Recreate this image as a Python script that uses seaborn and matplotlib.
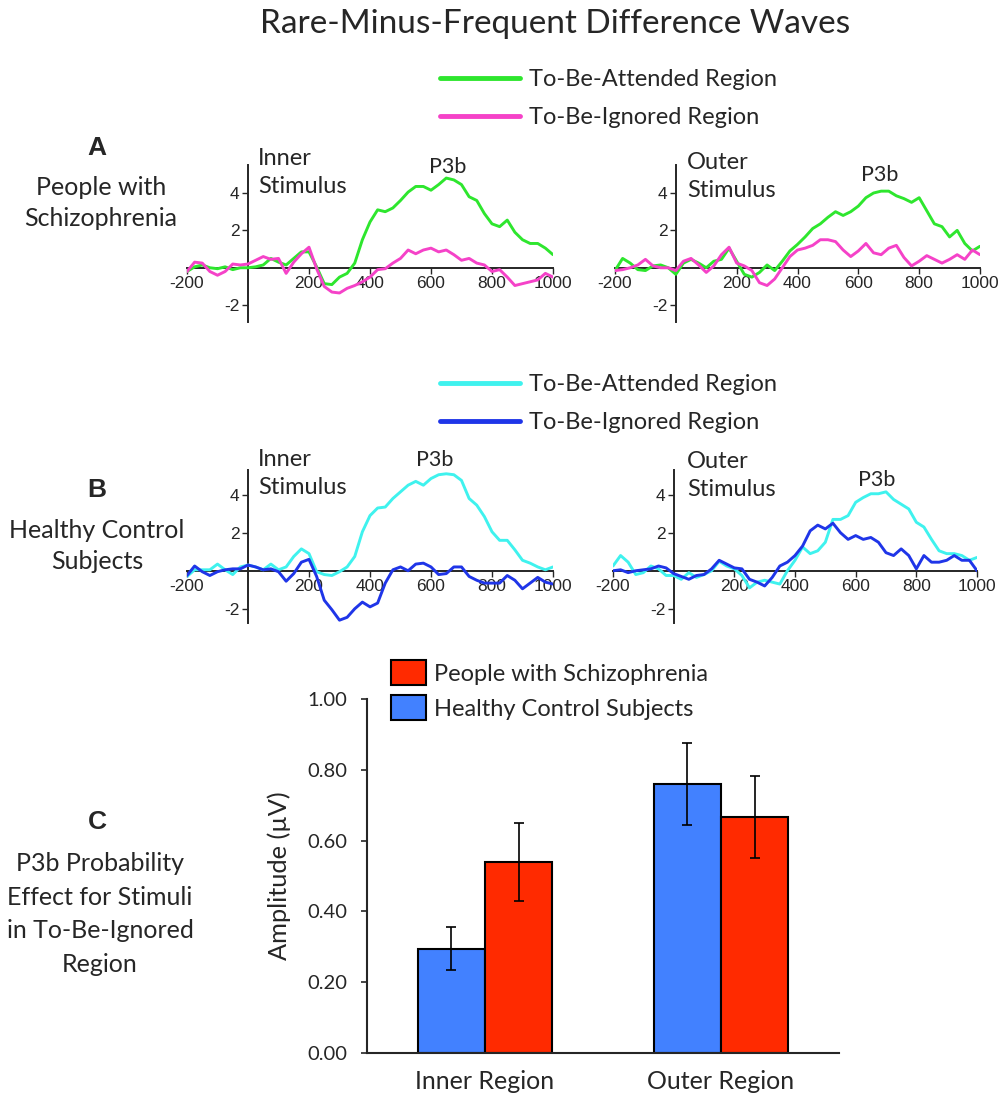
import numpy as np
import pandas as pd
import matplotlib
matplotlib.use("Agg")
import matplotlib.pyplot as plt
import seaborn as sns

sns.set_style("ticks")
plt.rcParams['font.family'] = ['Lato', 'DejaVu Sans']
plt.rcParams['axes.unicode_minus'] = False

# time axis (ms), one sample every 25 ms
t = np.arange(-200, 1001, 25)

# A: people with schizophrenia
szInnerAtt = [-0.2, 0.05, 0.15, 0.0, -0.05, 0.05, -0.1, 0.0, 0.0,
              0.05, 0.15, 0.5, 0.3, 0.15, 0.5, 0.85, 0.85,
              0.05, -0.85, -0.9, -0.5, -0.3, 0.25, 1.5, 2.45,
              3.1, 3.0, 3.2, 3.6, 4.05, 4.35, 4.35, 4.15,
              4.45, 4.8, 4.7, 4.45, 3.8, 3.6, 2.9, 2.35,
              2.2, 2.55, 1.9, 1.5, 1.3, 1.3, 1.05, 0.7]
szInnerIgn = [-0.2, 0.3, 0.25, -0.2, -0.4, -0.2, 0.2, 0.15, 0.2,
              0.4, 0.6, 0.45, 0.5, -0.3, 0.3, 0.75, 1.1,
              -0.05, -1.0, -1.3, -1.35, -1.1, -0.95, -0.75, -0.5,
              -0.1, -0.05, 0.25, 0.5, 0.95, 0.75, 0.95, 1.05,
              0.85, 0.95, 0.7, 0.4, 0.5, 0.25, 0.15, -0.2,
              -0.1, -0.5, -0.95, -0.85, -0.75, -0.65, -0.3, -0.5]
szOuterAtt = [-0.15, 0.5, 0.25, -0.1, -0.15, 0.1, 0.15, 0.0, -0.35,
              0.25, 0.45, 0.25, 0.0, 0.35, 0.45, 1.05, 0.35,
              -0.35, -0.5, -0.25, 0.15, -0.15, 0.35, 0.9, 1.25,
              1.65, 2.1, 2.35, 2.7, 3.0, 2.8, 3.0, 3.3,
              3.75, 4.0, 4.1, 4.1, 3.85, 3.7, 3.5, 3.75,
              3.05, 2.35, 2.2, 1.65, 2.0, 1.3, 0.9, 1.15]
szOuterIgn = [-0.15, -0.1, 0.0, 0.15, 0.45, 0.1, 0.0, 0.0, -0.15,
              0.35, 0.5, 0.15, -0.25, 0.1, 0.7, 1.1, 0.25,
              0.1, -0.15, -0.8, -0.95, -0.6, 0.0, 0.6, 0.95,
              1.05, 1.2, 1.5, 1.5, 1.4, 0.95, 0.6, 0.9,
              1.3, 0.8, 0.7, 1.05, 1.2, 0.55, 0.1, 0.35,
              0.65, 0.45, 0.25, 0.45, 0.7, 0.45, 0.95, 0.7]

# B: healthy control subjects
hcInnerAtt = [-0.3, 0.05, 0.05, 0.05, 0.35, 0.05, -0.2, 0.2, 0.3,
              0.2, 0.05, 0.35, 0.05, 0.2, 0.75, 1.15, 0.9,
              -0.05, -0.2, -0.25, -0.05, 0.2, 0.75, 2.05, 2.9,
              3.3, 3.35, 3.8, 4.15, 4.5, 4.7, 4.5, 4.85,
              5.05, 5.1, 5.05, 4.75, 3.8, 3.45, 2.85, 2.05,
              1.6, 1.6, 1.1, 0.55, 0.4, 0.2, 0.05, 0.2]
hcInnerIgn = [-0.25, 0.25, -0.05, -0.25, -0.05, 0.05, 0.1, 0.1, 0.3,
              0.2, 0.05, 0.1, -0.05, -0.55, -0.15, 0.45, 0.6,
              -0.3, -1.55, -2.05, -2.6, -2.45, -2.0, -1.65, -1.9,
              -1.7, -0.65, 0.05, 0.2, 0.0, 0.35, 0.4, 0.2,
              -0.2, -0.15, 0.2, 0.2, -0.3, -0.5, -0.65, -0.65,
              -0.65, -0.25, -0.5, -0.95, -0.65, -0.35, -0.6, -0.7]
hcOuterAtt = [0.25, 0.8, 0.45, -0.2, -0.1, 0.25, 0.1, -0.25, -0.25,
              -0.45, -0.1, -0.35, -0.2, 0.0, 0.5, 0.25, 0.1,
              -0.25, -0.9, -0.6, -0.5, -0.6, -0.7, 0.0, 0.55,
              1.25, 0.9, 1.05, 1.5, 2.7, 2.7, 2.9, 3.6,
              3.85, 4.05, 4.05, 4.15, 3.75, 3.5, 3.25, 2.55,
              2.3, 1.65, 1.05, 0.9, 0.9, 0.8, 0.55, 0.7]
hcOuterIgn = [0.0, 0.05, -0.1, 0.0, 0.05, 0.1, 0.25, 0.15, -0.15,
              -0.3, -0.45, -0.25, -0.2, 0.1, 0.55, 0.35, 0.15,
              0.1, -0.45, -0.6, -0.8, -0.35, 0.25, 0.45, 0.8,
              1.3, 2.1, 2.4, 2.2, 2.5, 2.0, 1.65, 1.85,
              1.65, 1.75, 1.5, 0.95, 0.8, 1.15, 0.8, 0.1,
              0.8, 0.45, 0.45, 0.55, 0.8, 0.55, 0.55, 0.0]

# C: P3b probability effect, to-be-ignored region
regions = ['Inner Region', 'Inner Region', 'Outer Region', 'Outer Region']
groups = ['Healthy Control Subjects', 'People with Schizophrenia',
          'Healthy Control Subjects', 'People with Schizophrenia']
amplitude = [0.295, 0.54, 0.76, 0.667]
sem = [0.06, 0.11, 0.115, 0.115]

xticks = [-200, 200, 400, 600, 800, 1000]
yticks = [-2, 2, 4]

green, pink = '#2ee62e', '#f542c8'
cyan, blue = '#3ff2ee', '#1f35e8'
red_bar, blue_bar = '#ff2a00', '#4281ff'

W, H = 1000, 1094
fig = plt.figure(figsize=(10, 10.94), dpi=100)


def px(x, y):
    return x / W, 1 - y / H


def wave_panel(rect, att, ign, c1, c2, ylim):
    ax = fig.add_axes(rect)
    sns.lineplot(x=t, y=att, color=c1, lw=2.1, ax=ax)
    sns.lineplot(x=t, y=ign, color=c2, lw=2.1, ax=ax)
    ax.set_xlim(-200, 1000)
    ax.set_ylim(*ylim)
    ax.spines['left'].set_position(('data', 0))
    ax.spines['bottom'].set_position(('data', 0))
    ax.spines[['top', 'right']].set_visible(False)
    for s in ['left', 'bottom']:
        ax.spines[s].set_linewidth(1.4)
        ax.spines[s].set_zorder(0.5)
    ax.set_xticks(xticks)
    ax.set_yticks(yticks)
    ax.tick_params(length=4, width=1, labelsize=12.5, pad=2)
    for lab in ax.get_xticklabels() + ax.get_yticklabels():
        lab.set_family('Liberation Sans')
    ax.set_xlabel('')
    ax.set_ylabel('')
    return ax


axA1 = wave_panel([0.187, 0.7057, 0.366, 0.1435], szInnerAtt, szInnerIgn, green, pink, (-2.9, 5.5))
axA2 = wave_panel([0.615, 0.7057, 0.365, 0.1435], szOuterAtt, szOuterIgn, green, pink, (-2.9, 5.5))
axB1 = wave_panel([0.187, 0.4305, 0.366, 0.1399], hcInnerAtt, hcInnerIgn, cyan, blue, (-2.75, 5.3))
axB2 = wave_panel([0.613, 0.4305, 0.364, 0.1399], hcOuterAtt, hcOuterIgn, cyan, blue, (-2.75, 5.3))

# wave legends
for ax, ytop in [(axA1, 69), (axB1, 374)]:
    fig.legend(ax.get_lines()[:2], ['To-Be-Attended Region', 'To-Be-Ignored Region'],
               loc='upper left', bbox_to_anchor=px(440, ytop), frameon=False,
               fontsize=17, handlelength=3.4, handletextpad=0.35, labelspacing=0.71,
               borderpad=0, borderaxespad=0)
for lg in fig.legends:
    for ln in lg.get_lines():
        ln.set_linewidth(3.5)

# panel text
fig.text(*px(555, 24), 'Rare-Minus-Frequent Difference Waves', fontsize=24, ha='center', va='center')
fig.text(*px(97, 148), 'A', fontsize=19, fontweight='bold', ha='center', va='center', family='Liberation Sans')
fig.text(*px(101, 203), 'People with\nSchizophrenia', fontsize=18, ha='center', va='center', linespacing=1.39)
fig.text(*px(97, 490), 'B', fontsize=19, fontweight='bold', ha='center', va='center', family='Liberation Sans')
fig.text(*px(97, 546), 'Healthy Control\nSubjects', fontsize=18, ha='center', va='center', linespacing=1.39)
fig.text(*px(97, 822), 'C', fontsize=19, fontweight='bold', ha='center', va='center', family='Liberation Sans')
fig.text(*px(100, 914), 'P3b Probability\nEffect for Stimuli\nin To-Be-Ignored\nRegion', fontsize=18,
         ha='center', va='center', linespacing=1.55)

for (x, y, s) in [(258, 148, 'Inner\nStimulus'), (687, 152, 'Outer\nStimulus'),
                  (258, 449, 'Inner\nStimulus'), (687, 451, 'Outer\nStimulus')]:
    fig.text(*px(x, y), s, fontsize=17, ha='left', va='top', linespacing=1.4)
for (x, y, s) in [(448, 167, 'P3b'), (880, 175, 'P3b'), (435, 460, 'P3b'), (877, 480, 'P3b')]:
    fig.text(*px(x, y), s, fontsize=15.5, ha='center', va='center')

# bar chart
df = pd.DataFrame({'region': regions, 'group': groups, 'amp': amplitude, 'sem': sem})
hue_order = ['Healthy Control Subjects', 'People with Schizophrenia']
axC = fig.add_axes([0.367, 0.0375, 0.472, 0.3236])
sns.barplot(data=df, x='region', y='amp', hue='group', hue_order=hue_order,
            palette=[blue_bar, red_bar], saturation=1, width=0.57, edgecolor='black',
            linewidth=1.5, errorbar=None, ax=axC)
for cont, g in zip(axC.containers, hue_order):
    sub = df[df['group'] == g]
    xs = [b.get_x() + b.get_width() / 2 for b in cont]
    axC.errorbar(xs, sub['amp'], yerr=sub['sem'], fmt='none', ecolor='black',
                 elinewidth=1.2, capsize=3.5, capthick=1.2)
axC.set_xlim(-0.5, 1.5)
axC.set_ylim(0, 1.0)
axC.set_yticks(np.arange(0, 1.01, 0.2))
axC.set_yticklabels([f'{v:.2f}' for v in np.arange(0, 1.01, 0.2)])
axC.spines[['top', 'right']].set_visible(False)
axC.spines[['left', 'bottom']].set_linewidth(1.5)
axC.tick_params(axis='y', length=4, width=1.2, labelsize=14.5, pad=10)
axC.tick_params(axis='x', length=0, labelsize=18, pad=12)
axC.set_xlabel('')
axC.set_ylabel('Amplitude (µV)', fontsize=18.3, labelpad=12)
h, l = axC.get_legend_handles_labels()
axC.legend([h[1], h[0]], [l[1], l[0]], loc='upper left', bbox_to_anchor=px(391, 660),
           bbox_transform=fig.transFigure, frameon=False, fontsize=17,
           handlelength=1.48, handleheight=1.27, handletextpad=0.35, labelspacing=0.42,
           borderpad=0, borderaxespad=0)

fig.savefig('out.png', dpi=100)
